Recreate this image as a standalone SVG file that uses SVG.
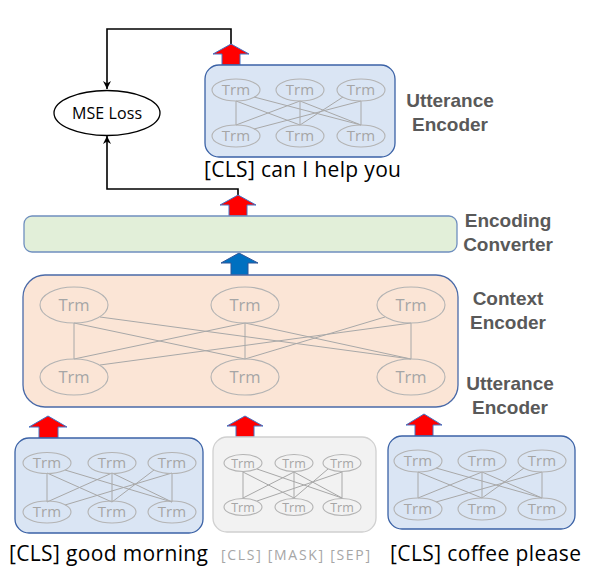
<svg xmlns="http://www.w3.org/2000/svg" width="596" height="566" viewBox="0 0 596 566">
<defs>
<style>
.blue{fill:#dae5f4;stroke:#3b62a6;stroke-width:1.3}
.gray{fill:#f2f2f2;stroke:#d0d0d0;stroke-width:1.3}
.peach{fill:#fbe5d6;stroke:#4a6aa8;stroke-width:1.3}
.green{fill:#e2efd9;stroke:#6f8fbf;stroke-width:1.3}
.el{fill:none;stroke:#b3b3b3;stroke-width:1.1}
.ln{stroke:#a8a8a8;stroke-width:1;fill:none}
.trm{font-family:"Open Sans","Noto Sans",sans-serif;fill:#a6a6a6;text-anchor:middle}
.lab{font-family:"Liberation Sans",Arial,sans-serif;font-weight:bold;font-size:19px;fill:#595959;text-anchor:middle}
.cap{font-family:"Open Sans","Noto Sans",sans-serif;font-size:21px;fill:#000}
.red{fill:#ff0000;stroke:#4472c4;stroke-width:1}
.bl{fill:#0070c0;stroke:#2f5597;stroke-width:1}
.con{fill:none;stroke:#000;stroke-width:1.6}
</style>
<marker id="ah" viewBox="0 0 10 10" refX="10" refY="5" markerWidth="8" markerHeight="8" markerUnits="userSpaceOnUse" orient="auto">
<path d="M0,0 L10,5 L0,10 L3,5 z" fill="#000"/>
</marker>
</defs>
<rect width="596" height="566" fill="#fff"/>

<g id="connectors">
<path class="con" d="M231,44 V29 H107 V89" marker-end="url(#ah)"/>
<path class="con" d="M238,195 V189 H107 V136" marker-end="url(#ah)"/>
<polygon class="red" points="231,44 249,54 240,54 240,65 222,65 222,54 213,54"/>
<polygon class="red" points="238,195 256,205 247,205 247,216 229,216 229,205 220,205"/>
<polygon class="bl" points="239,253 258,263 248,263 248,275 231,275 231,263 221,263"/>
<polygon class="red" points="48,416 67,427 58,427 58,438 39,438 39,427 29,427"/>
<polygon class="red" points="245,416 263,426 254,426 254,437 236,437 236,426 227,426"/>
<polygon class="red" points="424,414 442,425 433,425 433,436 415,436 415,425 406,425"/>
</g>

<g id="mse-loss">
<ellipse cx="107" cy="113" rx="53" ry="22.5" fill="#fff" stroke="#000" stroke-width="1.3"/>
<text x="107" y="119" font-family="Open Sans, Noto Sans, sans-serif" font-size="16" text-anchor="middle" textLength="70" fill="#000">MSE Loss</text>
</g>

<g id="utterance-encoder-top">
<rect class="blue" x="205" y="65" width="190" height="92" rx="14"/>
<g class="ln">
<line x1="236" y1="101" x2="236" y2="125"/><line x1="300" y1="101" x2="300" y2="125"/><line x1="361" y1="101" x2="361" y2="125"/>
<line x1="236" y1="101" x2="300" y2="125"/><line x1="300" y1="101" x2="236" y2="125"/><line x1="300" y1="101" x2="361" y2="125"/>
<line x1="343" y1="97" x2="300" y2="125"/><line x1="254" y1="97" x2="361" y2="125"/><line x1="361" y1="101" x2="254" y2="129"/>
</g>
<g class="el">
<ellipse cx="236" cy="90" rx="24" ry="11"/><ellipse cx="300" cy="90" rx="24" ry="11"/><ellipse cx="361" cy="90" rx="24" ry="11"/>
<ellipse cx="236" cy="136" rx="24" ry="11"/><ellipse cx="300" cy="136" rx="24" ry="11"/><ellipse cx="361" cy="136" rx="24" ry="11"/>
</g>
<g class="trm" font-size="15">
<text x="236" y="95">Trm</text><text x="300" y="95">Trm</text><text x="361" y="95">Trm</text>
<text x="236" y="141">Trm</text><text x="300" y="141">Trm</text><text x="361" y="141">Trm</text>
</g>
<text class="lab" x="450" y="107">Utterance</text>
<text class="lab" x="450" y="131">Encoder</text>
<text class="cap" x="204" y="177" textLength="197">[CLS] can I help you</text>
</g>

<g id="encoding-converter">
<rect class="green" x="24" y="216" width="433" height="36" rx="8"/>
<text class="lab" x="508" y="227">Encoding</text>
<text class="lab" x="508" y="251">Converter</text>
</g>

<g id="context-encoder">
<rect class="peach" x="23" y="275" width="435" height="132" rx="22"/>
<g class="ln">
<line x1="74" y1="323" x2="74" y2="359"/><line x1="245" y1="323" x2="245" y2="359"/><line x1="411" y1="323" x2="411" y2="359"/>
<line x1="74" y1="323" x2="245" y2="359"/><line x1="245" y1="323" x2="74" y2="359"/><line x1="245" y1="323" x2="411" y2="359"/>
<line x1="385" y1="317" x2="245" y2="359"/><line x1="100" y1="317" x2="411" y2="359"/><line x1="411" y1="323" x2="100" y2="365"/>
</g>
<g class="el">
<ellipse cx="74" cy="305" rx="34" ry="18"/><ellipse cx="245" cy="305" rx="34" ry="18"/><ellipse cx="411" cy="305" rx="34" ry="18"/>
<ellipse cx="74" cy="377" rx="34" ry="18"/><ellipse cx="245" cy="377" rx="34" ry="18"/><ellipse cx="411" cy="377" rx="34" ry="18"/>
</g>
<g class="trm" font-size="16.5">
<text x="74" y="311">Trm</text><text x="245" y="311">Trm</text><text x="411" y="311">Trm</text>
<text x="74" y="383">Trm</text><text x="245" y="383">Trm</text><text x="411" y="383">Trm</text>
</g>
<text class="lab" x="508" y="305">Context</text>
<text class="lab" x="508" y="329">Encoder</text>
<text class="lab" x="510" y="390">Utterance</text>
<text class="lab" x="510" y="414">Encoder</text>
</g>

<g id="utterance-encoder-1">
<rect class="blue" x="15" y="438" width="188" height="95" rx="14"/>
<g class="ln">
<line x1="47" y1="473" x2="47" y2="502"/><line x1="112" y1="473" x2="112" y2="502"/><line x1="172" y1="473" x2="172" y2="502"/>
<line x1="47" y1="473" x2="112" y2="502"/><line x1="112" y1="473" x2="47" y2="502"/><line x1="112" y1="473" x2="172" y2="502"/>
<line x1="154" y1="470" x2="112" y2="502"/><line x1="65" y1="470" x2="172" y2="502"/><line x1="172" y1="473" x2="65" y2="505"/>
</g>
<g class="el">
<ellipse cx="47" cy="463" rx="24" ry="10.5"/><ellipse cx="112" cy="463" rx="24" ry="10.5"/><ellipse cx="172" cy="463" rx="24" ry="10.5"/>
<ellipse cx="47" cy="512" rx="24" ry="11"/><ellipse cx="112" cy="512" rx="24" ry="11"/><ellipse cx="172" cy="512" rx="24" ry="11"/>
</g>
<g class="trm" font-size="15">
<text x="47" y="468">Trm</text><text x="112" y="468">Trm</text><text x="172" y="468">Trm</text>
<text x="47" y="517">Trm</text><text x="112" y="517">Trm</text><text x="172" y="517">Trm</text>
</g>
<text class="cap" x="9" y="561" font-size="21" textLength="199">[CLS] good morning</text>
</g>

<g id="utterance-encoder-2">
<rect class="gray" x="213" y="437" width="163" height="95" rx="14"/>
<g class="ln" stroke="#b8b8b8">
<line x1="243" y1="472" x2="243" y2="498"/><line x1="294" y1="472" x2="294" y2="498"/><line x1="342" y1="472" x2="342" y2="498"/>
<line x1="243" y1="472" x2="294" y2="498"/><line x1="294" y1="472" x2="243" y2="498"/><line x1="294" y1="472" x2="342" y2="498"/>
<line x1="328" y1="469" x2="294" y2="498"/><line x1="257" y1="469" x2="342" y2="498"/><line x1="342" y1="472" x2="257" y2="501"/>
</g>
<g class="el" stroke="#c4c4c4">
<ellipse cx="243" cy="463" rx="19" ry="8.5"/><ellipse cx="294" cy="463" rx="19" ry="8.5"/><ellipse cx="342" cy="463" rx="19" ry="8.5"/>
<ellipse cx="243" cy="507" rx="19" ry="8.5"/><ellipse cx="294" cy="507" rx="19" ry="8.5"/><ellipse cx="342" cy="507" rx="19" ry="8.5"/>
</g>
<g class="trm" font-size="12.5" fill="#b0b0b0">
<text x="243" y="467.5">Trm</text><text x="294" y="467.5">Trm</text><text x="342" y="467.5">Trm</text>
<text x="243" y="511.5">Trm</text><text x="294" y="511.5">Trm</text><text x="342" y="511.5">Trm</text>
</g>
<text x="221" y="560" font-family="Open Sans, Noto Sans, sans-serif" font-size="14" fill="#a6a6a6" textLength="149">[CLS] [MASK] [SEP]</text>
</g>

<g id="utterance-encoder-3">
<rect class="blue" x="388" y="436" width="187" height="93" rx="14"/>
<g class="ln">
<line x1="418" y1="472" x2="418" y2="498"/><line x1="482" y1="472" x2="482" y2="498"/><line x1="542" y1="472" x2="542" y2="498"/>
<line x1="418" y1="472" x2="482" y2="498"/><line x1="482" y1="472" x2="418" y2="498"/><line x1="482" y1="472" x2="542" y2="498"/>
<line x1="524" y1="468" x2="482" y2="498"/><line x1="436" y1="468" x2="542" y2="498"/><line x1="542" y1="472" x2="436" y2="502"/>
</g>
<g class="el">
<ellipse cx="418" cy="461" rx="24" ry="11"/><ellipse cx="482" cy="461" rx="24" ry="11"/><ellipse cx="542" cy="461" rx="24" ry="11"/>
<ellipse cx="418" cy="509" rx="24" ry="11"/><ellipse cx="482" cy="509" rx="24" ry="11"/><ellipse cx="542" cy="509" rx="24" ry="11"/>
</g>
<g class="trm" font-size="15">
<text x="418" y="466">Trm</text><text x="482" y="466">Trm</text><text x="542" y="466">Trm</text>
<text x="418" y="514">Trm</text><text x="482" y="514">Trm</text><text x="542" y="514">Trm</text>
</g>
<text class="cap" x="390" y="561" font-size="21" textLength="191">[CLS] coffee please</text>
</g>
</svg>
